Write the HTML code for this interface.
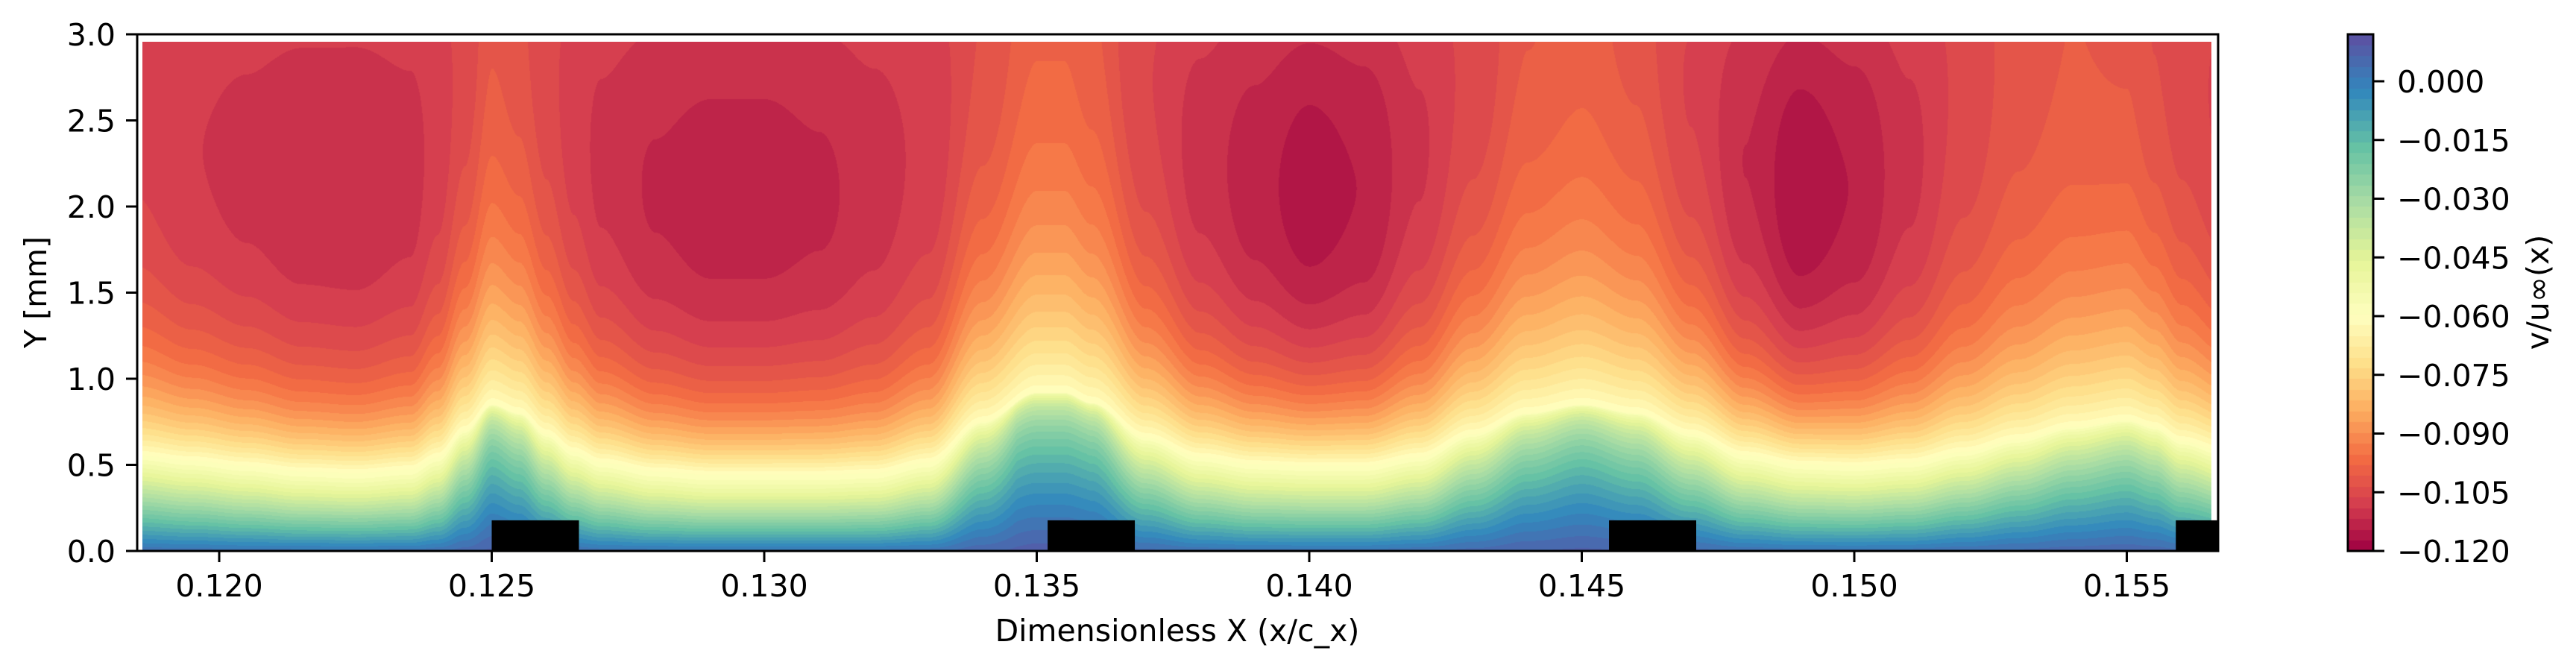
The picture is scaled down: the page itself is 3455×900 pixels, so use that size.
<!DOCTYPE html>
<html>
<head>
<meta charset="utf-8">
<style>
  html,body{margin:0;padding:0;background:#fff;}
  #wrap{position:relative;width:3455px;height:900px;overflow:hidden;background:#fff;}
  #field{position:absolute;left:191px;top:56px;}
  svg{position:absolute;left:0;top:0;}
  text{font-family:"DejaVu Sans","Liberation Sans",sans-serif;font-size:41px;fill:#000;}
</style>
</head>
<body>
<div id="wrap">
  <canvas id="field" width="2775" height="683"></canvas>
  <canvas id="cbar" width="34" height="693" style="position:absolute;left:3149px;top:46px;"></canvas>
  <svg id="axes" width="3455" height="900"></svg>
</div>
<script>
// ---- data ----
const colX   = [0.1185,0.1195,0.1205,0.1215,0.1225,0.1235,0.124,0.1245,0.125,0.1255,0.126,0.1265,0.127,0.128,0.129,0.130,0.131,0.132,0.133,0.134,0.135,0.1355,0.136,0.137,0.138,0.139,0.140,0.141,0.142,0.143,0.144,0.145,0.146,0.147,0.148,0.149,0.150,0.151,0.152,0.153,0.154,0.155,0.1555,0.156,0.1568];
const edgeH  = [0.56,0.53,0.50,0.47,0.46,0.48,0.55,0.7,0.85,0.8,0.68,0.58,0.52,0.47,0.45,0.45,0.45,0.46,0.52,0.75,0.92,0.92,0.86,0.66,0.55,0.51,0.5,0.5,0.55,0.68,0.8,0.85,0.8,0.68,0.56,0.51,0.5,0.52,0.58,0.65,0.72,0.76,0.72,0.64,0.58];
const coreV  = [-0.109,-0.111,-0.112,-0.113,-0.113,-0.112,-0.110,-0.108,-0.105,-0.106,-0.108,-0.110,-0.112,-0.114,-0.115,-0.115,-0.114,-0.112,-0.110,-0.106,-0.103,-0.103,-0.104,-0.109,-0.113,-0.116,-0.119,-0.117,-0.112,-0.108,-0.104,-0.103,-0.105,-0.110,-0.115,-0.120,-0.117,-0.112,-0.107,-0.104,-0.103,-0.104,-0.106,-0.107,-0.109];
const stripX = [0.1250,0.1352,0.1455,0.1559];
const stripW = 0.0016;
const stripH = 0.178;
const xTicks = [0.120,0.125,0.130,0.135,0.140,0.145,0.150,0.155];
const xTickLabels = ["0.120","0.125","0.130","0.135","0.140","0.145","0.150","0.155"];
const yTicks = [0,0.5,1.0,1.5,2.0,2.5,3.0];
const yTickLabels = ["0.0","0.5","1.0","1.5","2.0","2.5","3.0"];
const cTicks = [0,-0.015,-0.030,-0.045,-0.060,-0.075,-0.090,-0.105,-0.120];
const cTickLabels = ["0.000","\u22120.015","\u22120.030","\u22120.045","\u22120.060","\u22120.075","\u22120.090","\u22120.105","\u22120.120"];

// ---- scales ----
const X0=294, PXPER=73100;
function sx(x){return X0+(x-0.120)*PXPER;}
function sy(y){return 739-y*231;}
const VMIN=-0.120, VMAX=0.012, NLEV=48, STEP=(VMAX-VMIN)/NLEV;
function cY(v){return 739-(v-VMIN)/(VMAX-VMIN)*693;}

const stops=["#9e0142","#d53e4f","#f46d43","#fdae61","#fee08b","#ffffbf","#e6f598","#abdda4","#66c2a5","#3288bd","#5e4fa2"].map(h=>[parseInt(h.substr(1,2),16),parseInt(h.substr(3,2),16),parseInt(h.substr(5,2),16)]);
function cmap(t){t=Math.max(0,Math.min(1,t));const f=t*10,i=Math.min(9,Math.floor(f)),r=f-i;const a=stops[i],b=stops[i+1];return [a[0]+(b[0]-a[0])*r,a[1]+(b[1]-a[1])*r,a[2]+(b[2]-a[2])*r];}
function vToT(v){return v<-0.06?0.5*(v+0.12)/0.06:0.5+0.5*(v+0.06)/0.072;}
function levColor(v){let k=Math.floor((v-VMIN)/STEP);k=Math.max(0,Math.min(NLEV-1,k));return cmap(vToT(VMIN+(k+0.5)*STEP));}

function interp(arr,x){
  if(x<=colX[0])return arr[0];
  for(let i=0;i<colX.length-1;i++){
    if(x<=colX[i+1]){let r=(x-colX[i])/(colX[i+1]-colX[i]);r=r*r*(3-2*r);return arr[i]+(arr[i+1]-arr[i])*r;}
  }
  return arr[arr.length-1];
}

// ---- field ----
(function(){
  const cv=document.getElementById('field'),ctx=cv.getContext('2d');
  const W=cv.width,H=cv.height,img=ctx.createImageData(W,H),d=img.data;
  for(let px=0;px<W;px++){
    const x=0.120+((px+191)-X0)/PXPER;
    const h=interp(edgeH,x), core=interp(coreV,x);
    const L=0.4+(h-0.45)*0.9;
    const p=Math.max(0.45,1.2-(h-0.45)*1.8);
    const vb=0.003+Math.max(0,h-0.5)*0.012;
    const rec=Math.max(0,(-0.107-core))*0.5+0.001;
    for(let py=0;py<H;py++){
      const y=(739-(py+56))/231;
      let v;
      if(y<h){v=-0.06+(0.06+vb)*Math.pow(1-y/h,p);}
      else{v=core+(-0.06-core)*Math.exp(-(y-h)/L);if(y>1.5){const q=(y-1.5)/1.45;v+=rec*q*q;}}
      const c=levColor(v),o=(py*W+px)*4;
      d[o]=c[0];d[o+1]=c[1];d[o+2]=c[2];d[o+3]=255;
    }
  }
  ctx.putImageData(img,0,0);
})();
// ---- colorbar ----
(function(){
  const cv=document.getElementById('cbar'),ctx=cv.getContext('2d');
  for(let py=0;py<cv.height;py++){
    const v=VMAX-(py/cv.height)*(VMAX-VMIN);
    const c=levColor(v);ctx.fillStyle=`rgb(${c[0]|0},${c[1]|0},${c[2]|0})`;ctx.fillRect(0,py,cv.width,1);
  }
})();
// ---- axes ----
const NS='http://www.w3.org/2000/svg',svg=document.getElementById('axes');
function mk(tag,attrs,parent){const e=document.createElementNS(NS,tag);for(const k in attrs)e.setAttribute(k,attrs[k]);(parent||svg).appendChild(e);return e;}

stripX.forEach((sx0,i)=>{
  const r=mk('rect',{x:sx(sx0),y:sy(stripH),width:Math.min(sx(sx0+stripW),2975)-sx(sx0),height:sy(0)-sy(stripH),fill:'#000'});
  
  
});
const frame=mk('rect',{x:184,y:46,width:2791,height:693,fill:'none',stroke:'#000','stroke-width':3});



xTicks.forEach((t,i)=>{
  const px=sx(t);
  const l=mk('line',{x1:px,y1:739,x2:px,y2:754,stroke:'#000','stroke-width':3});
  
  
  const tx=mk('text',{x:px,y:800,'text-anchor':'middle'});tx.textContent=xTickLabels[i];
  
  
});
yTicks.forEach((t,i)=>{
  const py=sy(t);
  const l=mk('line',{x1:169,y1:py,x2:184,y2:py,stroke:'#000','stroke-width':3});
  
  
  const tx=mk('text',{x:155,y:py+15,'text-anchor':'end'});tx.textContent=yTickLabels[i];
  
  
});
const xl=mk('text',{x:1579,y:860,'text-anchor':'middle'});xl.textContent='Dimensionless X (x/c_x)';


const yl=mk('text',{x:0,y:0,'text-anchor':'middle',transform:'translate(62,392) rotate(-90)'});yl.textContent='Y [mm]';



const cf=mk('rect',{x:3149,y:46,width:34,height:693,fill:'none',stroke:'#000','stroke-width':3});


cTicks.forEach((t,i)=>{
  const py=cY(t);
  const l=mk('line',{x1:3183,y1:py,x2:3198,y2:py,stroke:'#000','stroke-width':3});
  
  
  const tx=mk('text',{x:3215,y:py+15,'text-anchor':'start'});tx.textContent=cTickLabels[i];
  
  
});
const cl=mk('text',{x:0,y:0,'text-anchor':'middle',transform:'translate(3418,392) rotate(-90)'});cl.textContent='v/u\u221e(x)';


</script>
</body>
</html>
